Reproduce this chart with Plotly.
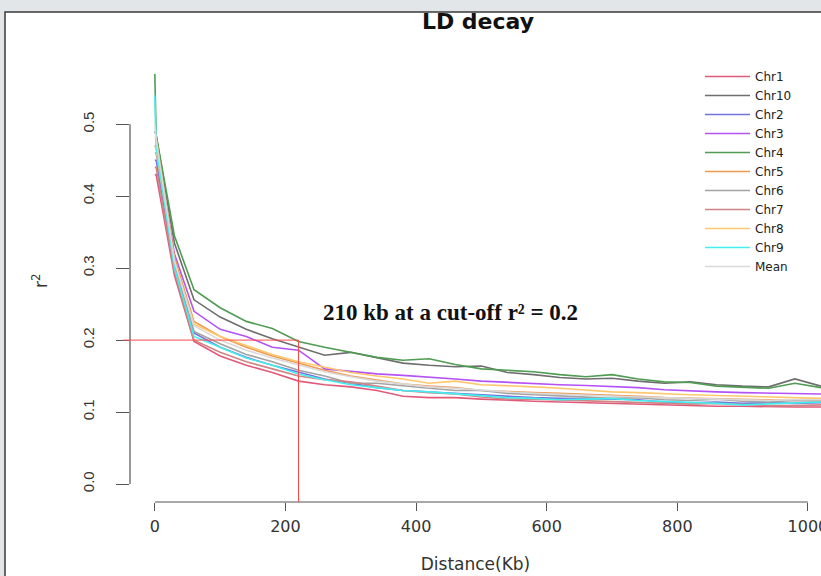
import plotly.graph_objects as go

# distance bins (kb) and mean r^2 per chromosome
dist_kb = [0, 2, 30, 60, 100, 140, 180, 220, 260, 300, 340, 380, 420, 460,
           500, 540, 580, 620, 660, 700, 740, 780, 820, 860, 900, 940, 980, 1020]

chr1 = [0.43, 0.43, 0.29, 0.198, 0.178, 0.165, 0.155, 0.143, 0.138, 0.135, 0.130, 0.122, 0.120, 0.120,
        0.118, 0.116, 0.115, 0.114, 0.113, 0.112, 0.110, 0.110, 0.109, 0.108, 0.108, 0.107, 0.107, 0.107]
chr10 = [0.49, 0.485, 0.335, 0.256, 0.232, 0.215, 0.202, 0.190, 0.179, 0.183, 0.175, 0.168, 0.165, 0.163,
         0.164, 0.155, 0.152, 0.148, 0.146, 0.147, 0.143, 0.140, 0.142, 0.138, 0.136, 0.135, 0.146, 0.136]
chr2 = [0.45, 0.45, 0.30, 0.210, 0.190, 0.176, 0.165, 0.155, 0.146, 0.140, 0.134, 0.130, 0.128, 0.126,
        0.123, 0.121, 0.120, 0.119, 0.119, 0.118, 0.117, 0.114, 0.113, 0.114, 0.112, 0.113, 0.112, 0.113]
chr3 = [0.47, 0.47, 0.32, 0.240, 0.215, 0.205, 0.190, 0.186, 0.160, 0.156, 0.153, 0.151, 0.149, 0.146,
        0.143, 0.141, 0.140, 0.138, 0.137, 0.136, 0.134, 0.131, 0.129, 0.128, 0.127, 0.126, 0.126, 0.125]
chr4 = [0.57, 0.485, 0.345, 0.270, 0.245, 0.226, 0.216, 0.198, 0.190, 0.183, 0.176, 0.172, 0.174, 0.166,
        0.160, 0.158, 0.156, 0.152, 0.149, 0.152, 0.146, 0.142, 0.141, 0.136, 0.134, 0.133, 0.140, 0.134]
chr5 = [0.48, 0.48, 0.315, 0.226, 0.205, 0.190, 0.178, 0.168, 0.158, 0.150, 0.144, 0.139, 0.136, 0.134,
        0.130, 0.128, 0.127, 0.126, 0.125, 0.123, 0.122, 0.120, 0.119, 0.118, 0.117, 0.117, 0.116, 0.116]
chr6 = [0.46, 0.46, 0.305, 0.212, 0.195, 0.180, 0.170, 0.158, 0.150, 0.140, 0.140, 0.136, 0.133, 0.130,
        0.130, 0.126, 0.124, 0.122, 0.120, 0.119, 0.120, 0.117, 0.116, 0.118, 0.115, 0.114, 0.116, 0.115]
chr7 = [0.44, 0.44, 0.295, 0.200, 0.183, 0.170, 0.160, 0.150, 0.145, 0.142, 0.136, 0.130, 0.127, 0.125,
        0.121, 0.118, 0.118, 0.117, 0.115, 0.114, 0.113, 0.112, 0.111, 0.112, 0.110, 0.109, 0.109, 0.110]
chr8 = [0.47, 0.465, 0.31, 0.222, 0.205, 0.192, 0.180, 0.170, 0.162, 0.155, 0.150, 0.146, 0.140, 0.143,
        0.138, 0.137, 0.135, 0.133, 0.130, 0.128, 0.127, 0.125, 0.124, 0.123, 0.122, 0.121, 0.120, 0.119]
chr9 = [0.54, 0.47, 0.30, 0.205, 0.190, 0.175, 0.165, 0.153, 0.145, 0.138, 0.134, 0.130, 0.128, 0.125,
        0.122, 0.120, 0.119, 0.117, 0.118, 0.119, 0.116, 0.115, 0.114, 0.112, 0.110, 0.111, 0.113, 0.114]
mean_all = [0.50, 0.48, 0.31, 0.220, 0.200, 0.186, 0.175, 0.165, 0.156, 0.149, 0.143, 0.139, 0.135, 0.133,
            0.130, 0.128, 0.126, 0.125, 0.124, 0.122, 0.121, 0.120, 0.119, 0.118, 0.117, 0.116, 0.117, 0.117]

names = ["Chr1", "Chr10", "Chr2", "Chr3", "Chr4", "Chr5", "Chr6", "Chr7", "Chr8", "Chr9", "Mean"]
values = [chr1, chr10, chr2, chr3, chr4, chr5, chr6, chr7, chr8, chr9, mean_all]
colors = ["#e05a7a", "#6e6e6e", "#7373e0", "#b452f5", "#4f9c52", "#ee9a4e",
          "#a3a3a3", "#d08585", "#ffc86e", "#45eeee", "#d9d9d9"]

cutoff_kb = 220
cutoff_r2 = 0.2

x_ticks = [0, 200, 400, 600, 800, 1000]
y_ticks = [0.0, 0.1, 0.2, 0.3, 0.4, 0.5]
x_range = [-38, 1020]
y_range = [-0.025, 0.624]

# figure geometry (pixels)
W, H = 821, 576
L, R, T, B = 130, 0, 35, 74


def px(x):
    return (x - L) / (W - L - R)


def py(y):
    return (H - B - y) / (H - T - B)


def kb_to_px(kb):
    return L + (kb - x_range[0]) * (W - L - R) / (x_range[1] - x_range[0])


fig = go.Figure()
for i in range(len(values)):
    fig.add_trace(go.Scatter(x=dist_kb, y=values[i], mode="lines", name=names[i],
                             line=dict(color=colors[i], width=1.6)))

axis_col = "#555555"
cut_col = "#ff4848"
shapes = [
    # white panel with dark border on top/left
    dict(type="rect", xref="paper", yref="paper", x0=px(5), x1=px(830), y0=py(585), y1=py(12),
         fillcolor="white", line=dict(color="#3a3a3a", width=1.5), layer="below"),
    # R-style axis lines spanning only the tick range
    dict(type="line", xref="x", yref="paper", x0=x_ticks[0], x1=x_ticks[-1], y0=0, y1=0,
         line=dict(color=axis_col, width=1.2)),
    dict(type="line", xref="paper", yref="y", x0=0, x1=0, y0=y_ticks[0], y1=y_ticks[-1],
         line=dict(color=axis_col, width=1.2)),
    # cut-off lines
    dict(type="line", xref="paper", yref="y", x0=px(123), x1=px(kb_to_px(cutoff_kb)),
         y0=cutoff_r2, y1=cutoff_r2, line=dict(color=cut_col, width=1)),
    dict(type="line", xref="x", yref="y", x0=cutoff_kb, x1=cutoff_kb, y0=cutoff_r2, y1=y_range[0],
         line=dict(color=cut_col, width=1)),
]

fig.update_layout(
    width=W, height=H,
    margin=dict(l=L, r=R, t=T, b=B),
    paper_bgcolor="#e3e6e8",
    plot_bgcolor="white",
    shapes=shapes,
    title=dict(text="<b>LD decay</b>", xref="container", x=478 / W, xanchor="center",
               y=1 - 21 / H, yanchor="middle",
               font=dict(family="DejaVu Sans", size=22, color="#111111")),
    xaxis=dict(range=x_range, tickvals=x_ticks, ticks="outside", ticklen=8, tickwidth=1.2,
               tickcolor=axis_col, showgrid=False, zeroline=False, showline=False,
               ticklabeloverflow="allow", automargin=False,
               tickfont=dict(family="DejaVu Sans", size=16, color="#333333"), ticklabelstandoff=2,
               title=dict(text="Distance(Kb)", standoff=22,
                          font=dict(family="DejaVu Sans", size=17, color="#333333"))),
    yaxis=dict(range=y_range, tickvals=y_ticks, tickformat=".1f", ticks="outside", ticklen=13,
               tickwidth=1.2, tickcolor=axis_col, showgrid=False, zeroline=False, showline=False,
               automargin=False,
               tickangle=-90, tickfont=dict(family="Liberation Sans", size=15, color="#333333"),
               ticklabelstandoff=16),
    legend=dict(x=px(700), y=py(62), xanchor="left", yanchor="top", bgcolor="rgba(0,0,0,0)",
                font=dict(family="DejaVu Sans", size=12, color="#222222"), tracegroupgap=0,
                itemwidth=45),
    annotations=[
        dict(text="<b>210 kb at a cut-off r² = 0.2</b>", xref="paper", yref="paper",
             x=px(450), y=py(312), xanchor="center", yanchor="middle", showarrow=False,
             font=dict(family="Liberation Serif", size=23, color="#111111")),
        dict(text="r<sup>2</sup>", xref="paper", yref="paper", x=px(40), y=py(281),
             xanchor="center", yanchor="middle", showarrow=False, textangle=-90,
             font=dict(family="DejaVu Sans", size=17, color="#333333")),
    ],
)

fig.write_html("out.html", config={"displayModeBar": False},
               post_script="document.body.style.margin='0';")
